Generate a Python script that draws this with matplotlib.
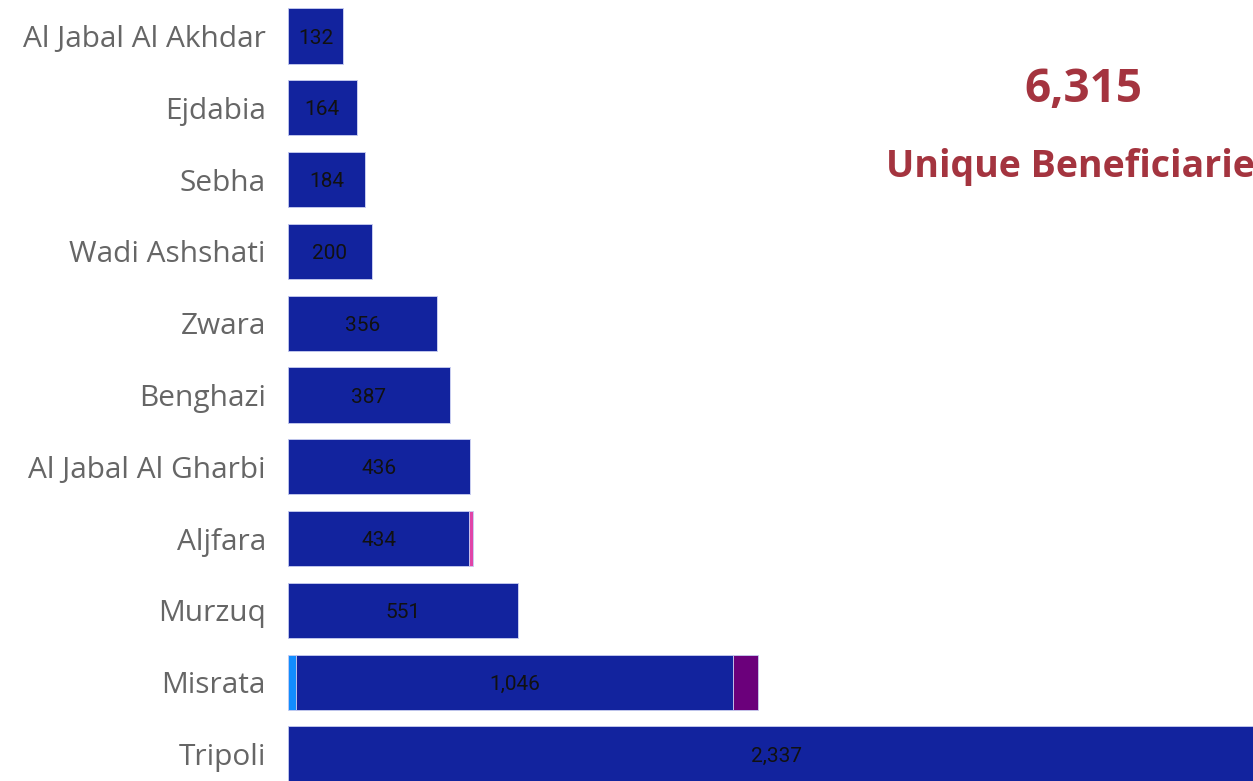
import matplotlib.pyplot as plt

regions = ['Al Jabal Al Akhdar', 'Ejdabia', 'Sebha', 'Wadi Ashshati', 'Zwara',
           'Benghazi', 'Al Jabal Al Gharbi', 'Aljfara', 'Murzuq', 'Misrata', 'Tripoli']
seg_a = [0, 0, 0, 0, 0, 0, 0, 0, 0, 19, 0]          # light blue
seg_main = [132, 164, 184, 200, 356, 387, 436, 434, 551, 1046, 2337]
seg_c = [0, 0, 0, 0, 0, 0, 0, 9, 0, 0, 0]            # pink
seg_d = [0, 0, 0, 0, 0, 0, 0, 0, 0, 60, 0]           # purple
total_label = '6,315'
card_label = 'Unique Beneficiaries'

fig = plt.figure(figsize=(12.53, 7.81), dpi=100)
# axes run past the right edge so Tripoli gets cut like in the report
ax = fig.add_axes([288 / 1253, 0, 1000 / 1253, 1])

y = range(len(regions))
h = 0.77
left = [0] * len(regions)
for vals, col in [(seg_a, '#118DFF'), (seg_main, '#12239E'), (seg_c, '#E044A7'), (seg_d, '#6B007B')]:
    ax.barh(y, vals, left=left, height=h, color=col, edgecolor='#c8cdf0', linewidth=0.6)
    left = [l + v for l, v in zip(left, vals)]

for i, v in enumerate(seg_main):
    ax.text(seg_a[i] + v / 2, i + 0.03, f'{v:,}', ha='center', va='center',
            fontsize=15, color='#111111', family='Roboto')

ax.set_xlim(0, 2392)
ax.set_ylim(10.376, -0.501)
ax.set_yticks(list(y))
ax.set_yticklabels(regions, fontsize=21.5, color='#666666', family='Open Sans')
ax.tick_params(axis='y', length=0, pad=16)
ax.set_xticks([])
for s in ax.spines.values():
    s.set_visible(False)

fig.text(1083 / 1253, 1 - 90 / 781, total_label, ha='center', va='center',
         fontsize=33, fontweight='bold', color='#A4343F', family='Open Sans')
fig.text(886 / 1253, 1 - 167 / 781, card_label, ha='left', va='center',
         fontsize=27, fontweight='bold', color='#A4343F', family='Open Sans')

fig.savefig('out.png', dpi=100)
